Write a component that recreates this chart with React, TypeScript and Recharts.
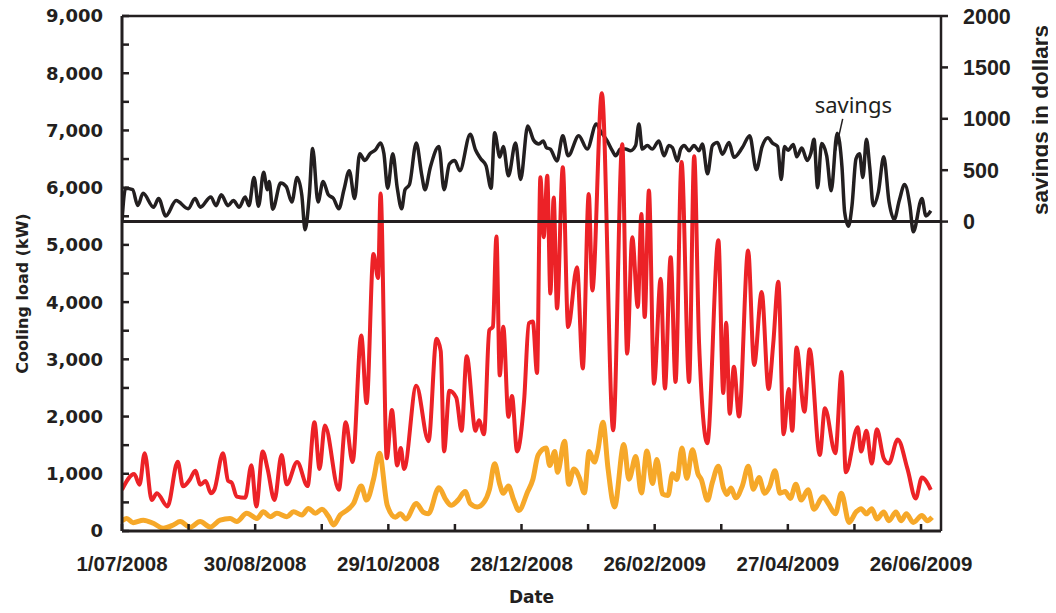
import React from "react"
import {
  LineChart,
  Line,
  XAxis,
  YAxis,
  ReferenceLine,
  ReferenceDot,
} from "recharts"

// days counted from 1/07/2008
const dateTicks = [0, 30, 60, 90, 120, 150, 180, 210, 240, 270, 300, 330, 360]
const dateLabels: Record<number, string> = {
  0: "1/07/2008",
  60: "30/08/2008",
  120: "29/10/2008",
  180: "28/12/2008",
  240: "26/02/2009",
  300: "27/04/2009",
  360: "26/06/2009",
}
const loadTicks = [0, 500, 1000, 1500, 2000, 2500, 3000, 3500, 4000, 4500, 5000, 5500, 6000, 6500, 7000, 7500, 8000, 8500, 9000]
const savingsTicks = [0, 500, 1000, 1500, 2000]

// red: cooling load, conventional operation (kW)
const conventionalDays = [
  0, 5.5, 7.9, 10.2, 13.4, 15.7, 20.5, 25.1, 27.5, 30.6, 33, 35.3, 37.7, 40, 41.6, 45.5, 47.8, 49.4, 51.7, 55.5,
  58.3, 60.5, 63.4, 65.6, 68.7, 71.9, 74.2, 78.9, 83.6, 86.7, 89, 91.4, 97.7, 100.8, 103.9, 107.8, 110.2, 113.3, 115.4, 116.5,
  119.3, 121.6, 124, 125.6, 127.1, 132.6, 138.1, 141.7, 143.6, 145.1, 147.5, 150.6, 153, 155.3, 159.3, 160.8, 163.1, 165.5, 167.1, 168.7,
  170.2, 171.8, 174.1, 175.7, 178, 181.2, 183.3, 185.1, 187, 188.5, 190, 191.6, 193, 194.5, 196, 198.6, 201, 205, 207.6, 210.3,
  211.9, 216.2, 221.3, 225.4, 227.6, 229.9, 232.4, 234, 235.5, 237.4, 239.7, 242.7, 244.6, 247.2, 249.4, 252.1, 255.5, 257.8, 260, 263.7,
  268.7, 270.9, 272.2, 273.8, 275.7, 278, 282.1, 284.8, 288.2, 291.3, 293.4, 295.7, 298.1, 300.4, 302, 303.9, 307.5, 309.8, 314.4, 316.7,
  321.4, 324.2, 326.1, 331.5, 333, 335.4, 337.8, 340.1, 343.2, 345.5, 349.5, 353.9, 357.6, 360.4, 364.4,
]
const conventionalLoad = [
  720, 995, 810, 1360, 540, 660, 430, 1210, 780, 900, 1055, 810, 875, 660, 720, 1360, 875, 845, 600, 580,
  1150, 430, 1390, 1085, 540, 1330, 815, 1205, 785, 1900, 1085, 1845, 720, 1900, 1205, 3415, 2235, 4840, 4420, 5900,
  1270, 2115, 1145, 1450, 1085, 2540, 1570, 3360, 3145, 1390, 2450, 2330, 1750, 3055, 1750, 1935, 1690, 3510, 3570, 5145,
  2720, 3570, 1995, 2360, 1390, 2300, 3630, 3660, 2760, 6180, 5135, 6210, 4150, 5830, 3890, 6355, 3565, 4610, 2840, 5890,
  4205, 7650, 1760, 6760, 3100, 5135, 3915, 5540, 3740, 5950, 2575, 4410, 2490, 4785, 2605, 6450, 2605, 6550, 3280, 1535,
  5080, 2410, 3640, 2050, 2870, 2000, 4900, 2900, 4175, 2480, 3265, 4355, 1690, 2480, 1750, 3205, 2085, 3175, 1330, 2145,
  1360, 2780, 1025, 1815, 1390, 1750, 1180, 1780, 1270, 1180, 1600, 1085, 570, 935, 720,
]

// orange: cooling load, optimised operation (kW)
const optimisedDays = [
  0, 2.1, 5, 9.6, 14.1, 18.5, 23.1, 26.2, 30.7, 35.2, 39.7, 44.2, 48.7, 51.7, 56.2, 60.8, 63.7, 66.8, 69.8, 74.3,
  77.3, 81.1, 84, 87.1, 90.1, 93.1, 95.3, 98.3, 101.4, 104.3, 107.8, 110.2, 113.3, 116, 119.5, 123.2, 125.4, 127.9, 132.6, 135.7,
  138, 142.8, 146, 148.3, 151.4, 154.6, 156.9, 160, 163.2, 165.5, 167.9, 170.2, 171.8, 174.1, 176.5, 178.8, 182.8, 185.1, 187.5, 191.1,
  192.7, 195, 196.2, 199.4, 201.3, 203.6, 206, 208.3, 210.5, 212.8, 214.3, 216.7, 219, 221.9, 226.1, 228.4, 231.5, 234, 236.5, 239,
  241, 243.5, 246, 248, 250, 252.3, 254.5, 257, 259.5, 261, 263.8, 266, 268.7, 271, 272.5, 274.4, 276.5, 279.5, 282.2, 284.5,
  287, 289.5, 291.8, 294.2, 296.5, 298.8, 301.1, 303.6, 306, 309.1, 311.8, 315.8, 318.2, 321.4, 324.1, 327.6, 330.7, 333, 335.4, 337.8,
  340.1, 343.2, 345.5, 348.7, 351, 353.4, 356.5, 360.4, 362.8, 365,
]
const optimisedLoad = [
  180, 220, 145, 190, 135, 50, 105, 165, 65, 165, 70, 190, 220, 165, 310, 220, 335, 250, 310, 250,
  335, 280, 395, 310, 380, 250, 105, 280, 365, 480, 785, 540, 900, 1360, 450, 240, 300, 210, 480, 330,
  300, 755, 540, 450, 540, 690, 480, 420, 510, 720, 1175, 815, 660, 785, 540, 360, 690, 900, 1330, 1450,
  1145, 1390, 1025, 1570, 815, 1085, 935, 665, 1390, 1205, 1390, 1900, 1085, 420, 1510, 905, 1300, 665, 1400, 830,
  1250, 650, 620, 1000, 900, 1450, 920, 1420, 1000, 900, 540, 850, 1130, 750, 640, 750, 580, 790, 1130, 730,
  935, 660, 780, 1055, 660, 690, 570, 815, 540, 720, 380, 600, 480, 300, 660, 150, 330, 390, 300, 390,
  210, 330, 180, 330, 180, 300, 150, 270, 180, 240,
]

// black: savings in dollars
const savingsDays = [
  0, 1.6, 4.8, 7.1, 9.5, 14.2, 16.5, 19.7, 24.4, 29.8, 32.9, 35.3, 40, 42.4, 44.7, 47.8, 50.2, 52.8, 55.5, 57.2,
  59.5, 61.5, 63.8, 65.5, 66.3, 67.9, 71.5, 74, 76.5, 78.9, 81, 82.5, 84.4, 85.9, 88.3, 90.6, 93, 95.3, 97.7, 100,
  102.4, 104.8, 107.1, 109.4, 111.8, 114.1, 116.5, 118, 119.7, 122, 124, 126, 127.5, 129.5, 132.6, 135, 136.5, 138.9, 142.8, 145.1,
  147.5, 149.9, 152.2, 156.9, 159.3, 161.6, 164, 166.3, 167.9, 170.2, 171.8, 174.1, 177.3, 179.6, 182.8, 185.5, 187.8, 189.8, 191.2, 193,
  196, 198.6, 201, 205.8, 209.6, 213.7, 215.6, 218.6, 220.9, 222.4, 224.6, 226.9, 229.1, 231.4, 232.9, 234.4, 236.7, 238.9, 241.9, 244.2,
  246.4, 248, 250.2, 251.7, 253.3, 255.5, 257.7, 260, 261.5, 263.8, 266, 268.3, 270.5, 273.5, 275.7, 279.5, 282.8, 285.8, 288.4, 291,
  293.1, 295.4, 297, 298.5, 300.1, 302.5, 304, 306.3, 308.7, 310.3, 311.8, 313.4, 315.2, 317.5, 319.5, 322.2, 324.4, 325.6, 327.3, 328.9,
  330.7, 332.3, 333.8, 335.4, 336.9, 338.5, 340.8, 343.2, 345.6, 347.9, 350.2, 352.6, 355, 356.5, 360.4, 362.2, 364.4,
]
const savings = [
  5, 325, 310, 157, 275, 140, 225, 55, 205, 125, 225, 140, 240, 155, 260, 155, 205, 140, 240, 155,
  430, 150, 480, 310, 390, 120, 375, 340, 190, 430, 260, -80, 260, 710, 190, 390, 260, 225, 125, 310,
  495, 225, 660, 595, 662, 696, 765, 662, 325, 660, 330, 125, 310, 360, 765, 460, 310, 527, 730, 310,
  560, 595, 495, 850, 696, 612, 544, 325, 865, 629, 730, 445, 765, 410, 930, 790, 755, 785, 720, 705,
  590, 835, 640, 835, 705, 950, 880, 785, 690, 640, 705, 705, 690, 740, 950, 705, 740, 705, 785, 640,
  740, 720, 590, 705, 740, 690, 740, 690, 755, 465, 740, 770, 655, 770, 625, 720, 835, 505, 730, 815,
  763, 730, 410, 730, 695, 750, 630, 715, 595, 660, 800, 330, 760, 640, 300, 860, 527, 90, -45, 155,
  610, 660, 430, 800, 527, 155, 290, 630, 190, 20, 205, 360, 155, -100, 225, 55, 105,
]

// "savings" callout: text anchor and leader line, in (day, dollars)
const calloutText = { day: 329.5, value: 1135 }
const calloutLine = [
  { day: 321.5, value: 690 },
  { day: 324.7, value: 1000 },
]

const conventionalData = conventionalDays.map((d, i) => ({ day: d, load: conventionalLoad[i] }))
const optimisedData = optimisedDays.map((d, i) => ({ day: d, load: optimisedLoad[i] }))
const savingsData = savingsDays.map((d, i) => ({ day: d, savings: savings[i] }))

const INK = "#231f20"
const RED = "#ec2227"
const ORANGE = "#f6a829"

const LEFT_TICK_MARGIN = 19
const BOTTOM_TICK_MARGIN = 40

function LoadTick(props: any) {
  const { x, y, payload } = props
  const axisX = x + LEFT_TICK_MARGIN
  const v = payload.value as number
  return (
    <g>
      <line x1={axisX} x2={axisX + 7} y1={y} y2={y} stroke={INK} strokeWidth={2.5} />
      {v % 1000 === 0 && (
        <text
          x={x}
          y={y}
          dy="0.36em"
          textAnchor="end"
          fill={INK}
          style={{ fontFamily: "DejaVu Sans", fontWeight: 700, fontSize: 18 }}
        >
          {v.toLocaleString("en-US")}
        </text>
      )}
    </g>
  )
}

function DateTick(props: any) {
  const { x, y, payload } = props
  const axisY = y - BOTTOM_TICK_MARGIN
  const label = dateLabels[payload.value as number]
  return (
    <g>
      <line x1={x} x2={x} y1={axisY} y2={axisY - 7} stroke={INK} strokeWidth={2.5} />
      {label && (
        <text
          x={x}
          y={y}
          textAnchor="middle"
          fill={INK}
          style={{ fontFamily: "Liberation Sans", fontWeight: 700, fontSize: 20.5 }}
        >
          {label}
        </text>
      )}
    </g>
  )
}

// axis titles, drawn as svg text relative to each axis box
function LeftTitle(props: any) {
  const vb = props.viewBox || {}
  const cx = vb.x + 14
  const cy = vb.y + vb.height / 2 + 20
  return (
    <text
      transform={`translate(${cx},${cy}) rotate(-90)`}
      textAnchor="middle"
      dominantBaseline="central"
      fill={INK}
      style={{ fontFamily: "DejaVu Sans", fontWeight: 700, fontSize: 16 }}
    >
      Cooling load (kW)
    </text>
  )
}

function RightTitle(props: any) {
  const vb = props.viewBox || {}
  const cx = vb.x + 99
  const cy = vb.y + 104
  return (
    <text
      transform={`translate(${cx},${cy}) rotate(-90)`}
      textAnchor="middle"
      dominantBaseline="central"
      fill={INK}
      style={{ fontFamily: "Liberation Sans", fontWeight: 700, fontSize: 22.5 }}
    >
      savings in dollars
    </text>
  )
}

function BottomTitle(props: any) {
  const vb = props.viewBox || {}
  const cx = vb.x + vb.width / 2
  const cy = vb.y + 66
  return (
    <text
      x={cx}
      y={cy}
      textAnchor="middle"
      dominantBaseline="central"
      fill={INK}
      style={{ fontFamily: "DejaVu Sans", fontWeight: 700, fontSize: 17 }}
    >
      Date
    </text>
  )
}

export default function App() {
  // pulled over the body margin so the svg covers the whole 1056x613 page
  return (
    <div style={{ width: 1048, height: 613, marginTop: -8, marginBottom: -8, background: "#fff" }}>
      <LineChart
        width={1048}
        height={613}
        margin={{ top: 16, right: 0, bottom: 0, left: 0 }}
      >
        <XAxis
          type="number"
          dataKey="day"
          domain={[0, 369]}
          ticks={dateTicks}
          interval={0}
          height={82}
          tickSize={0}
          tickMargin={BOTTOM_TICK_MARGIN}
          tickLine={false}
          axisLine={{ stroke: INK, strokeWidth: 3 }}
          tick={<DateTick />}
          label={{ content: (p: any) => <BottomTitle {...p} /> }}
          allowDataOverflow
        />
        <YAxis
          yAxisId="left"
          domain={[0, 9000]}
          ticks={loadTicks}
          interval={0}
          width={114}
          tickSize={0}
          tickMargin={LEFT_TICK_MARGIN}
          tickLine={false}
          axisLine={{ stroke: INK, strokeWidth: 3 }}
          tick={<LoadTick />}
          label={{ content: (p: any) => <LeftTitle {...p} /> }}
          allowDataOverflow
        />
        <YAxis
          yAxisId="right"
          orientation="right"
          domain={[-3010, 2000]}
          ticks={savingsTicks}
          interval={0}
          width={115}
          tickSize={7}
          tickMargin={15}
          tickLine={{ stroke: INK, strokeWidth: 2.5 }}
          axisLine={{ stroke: INK, strokeWidth: 2.5 }}
          tick={{ fill: INK, fontFamily: "Liberation Sans", fontWeight: 700, fontSize: 21.5 }}
          label={{ content: (p: any) => <RightTitle {...p} /> }}
          allowDataOverflow
        />
        <ReferenceLine yAxisId="left" y={9000} stroke={INK} strokeWidth={2.5} />
        <Line
          yAxisId="right"
          data={savingsData}
          dataKey="savings"
          type="monotone"
          stroke={INK}
          strokeWidth={3.5}
          dot={false}
          isAnimationActive={false}
        />
        <Line
          yAxisId="left"
          data={conventionalData}
          dataKey="load"
          type="monotone"
          stroke={RED}
          strokeWidth={4}
          dot={false}
          isAnimationActive={false}
        />
        <Line
          yAxisId="left"
          data={optimisedData}
          dataKey="load"
          type="monotone"
          stroke={ORANGE}
          strokeWidth={5}
          dot={false}
          isAnimationActive={false}
        />
        <ReferenceLine yAxisId="right" y={0} stroke={INK} strokeWidth={3} />
        <ReferenceLine
          yAxisId="right"
          segment={calloutLine.map((p) => ({ x: p.day, y: p.value }))}
          stroke={INK}
          strokeWidth={1.5}
        />
        <ReferenceDot
          yAxisId="right"
          x={calloutText.day}
          y={calloutText.value}
          r={0}
          stroke="none"
          fill="none"
          label={{
            value: "savings",
            position: "center",
            fill: INK,
            fontFamily: "Noto Sans",
            fontSize: 22,
          }}
        />
      </LineChart>
    </div>
  )
}
